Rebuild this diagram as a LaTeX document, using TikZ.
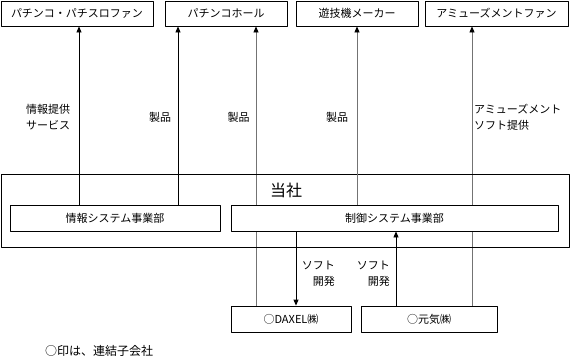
\documentclass[tikz,border=0pt]{standalone}
\usepackage{fontspec}
\setmainfont{Noto Sans CJK JP}
\usetikzlibrary{arrows.meta,backgrounds}
\tikzset{
  box/.style={draw, fill=white, line width=0.8pt, inner sep=0pt, minimum height=26pt, font=\fontsize{11}{13}\selectfont},
  arr/.style={-{Triangle[length=6pt,width=5pt,color=black]}, line width=0.8pt},
  gline/.style={draw=black!55},
  lbl/.style={font=\fontsize{11}{16}\selectfont, inner sep=0pt},
}
\begin{document}
\begin{tikzpicture}[x=1pt, y=-1pt, line join=round]
\useasboundingbox (0,0) rectangle (571,362);
\path (79,0) coordinate (x1)
      (178,0) coordinate (x2)
      (256,0) coordinate (x3)
      (357,0) coordinate (x4)
      (472,0) coordinate (x5)
      (296,0) coordinate (x6)
      (396,0) coordinate (x7);
\node[box, minimum width=152pt, minimum height=25pt] (fan) at (77,13.5) {パチンコ・パチスロファン};
\node[box, minimum width=122pt, minimum height=25pt] (hall) at (226,13.5) {パチンコホール};
\node[box, minimum width=122pt, minimum height=25pt] (maker) at (357,13.5) {遊技機メーカー};
\node[box, minimum width=143pt, minimum height=25pt] (amuse) at (496.5,13.5) {アミューズメントファン};
\node[box, fill=none, minimum width=568pt, minimum height=73pt] (corp) at (285,210.5) {};
\node[font=\fontsize{16}{18}\selectfont, inner sep=0pt] (corpname) at (286,190) {当社};
\node[box, minimum width=210pt] (info) at (115,218) {情報システム事業部};
\node[box, minimum width=327pt] (ctrl) at (394.5,218) {制御システム事業部};
\node[box, minimum width=120pt] (daxel) at (291,319) {○DAXEL㈱};
\node[box, minimum width=136pt] (genki) at (429,319) {○元気㈱};
\begin{scope}[on background layer]
  \draw[arr, gline] (daxel.north -| x3) -- (hall.south -| x3);
  \draw[arr, gline] (genki.north -| x5) -- (amuse.south -| x5);
\end{scope}
\draw[arr, gline] (ctrl.north -| x4) -- (maker.south -| x4);
\draw[arr] (info.north -| x1) -- (fan.south -| x1);
\draw[arr] (info.north -| x2) -- (hall.south -| x2);
\draw[arr] (ctrl.south -| x6) -- (daxel.north -| x6);
\draw[arr] (genki.north -| x7) -- (ctrl.south -| x7);
\node[lbl, anchor=west, align=left] (infosvc) at (26,117) {情報提供\\サービス};
\node[lbl] (prod1) at (160,117) {製品};
\node[lbl] (prod2) at (238.5,117) {製品};
\node[lbl] (prod3) at (337,117) {製品};
\node[lbl, anchor=west, align=left] (amusesoft) at (474,117) {アミューズメント\\ソフト提供};
\node[lbl, anchor=east, align=right] (dev1) at (335,274) {ソフト\\開発};
\node[lbl, anchor=east, align=right] (dev2) at (390,274) {ソフト\\開発};
\node[lbl, anchor=west, font=\fontsize{12}{14}\selectfont] (note) at (45,351) {○印は、連結子会社};
\end{tikzpicture}
\end{document}
